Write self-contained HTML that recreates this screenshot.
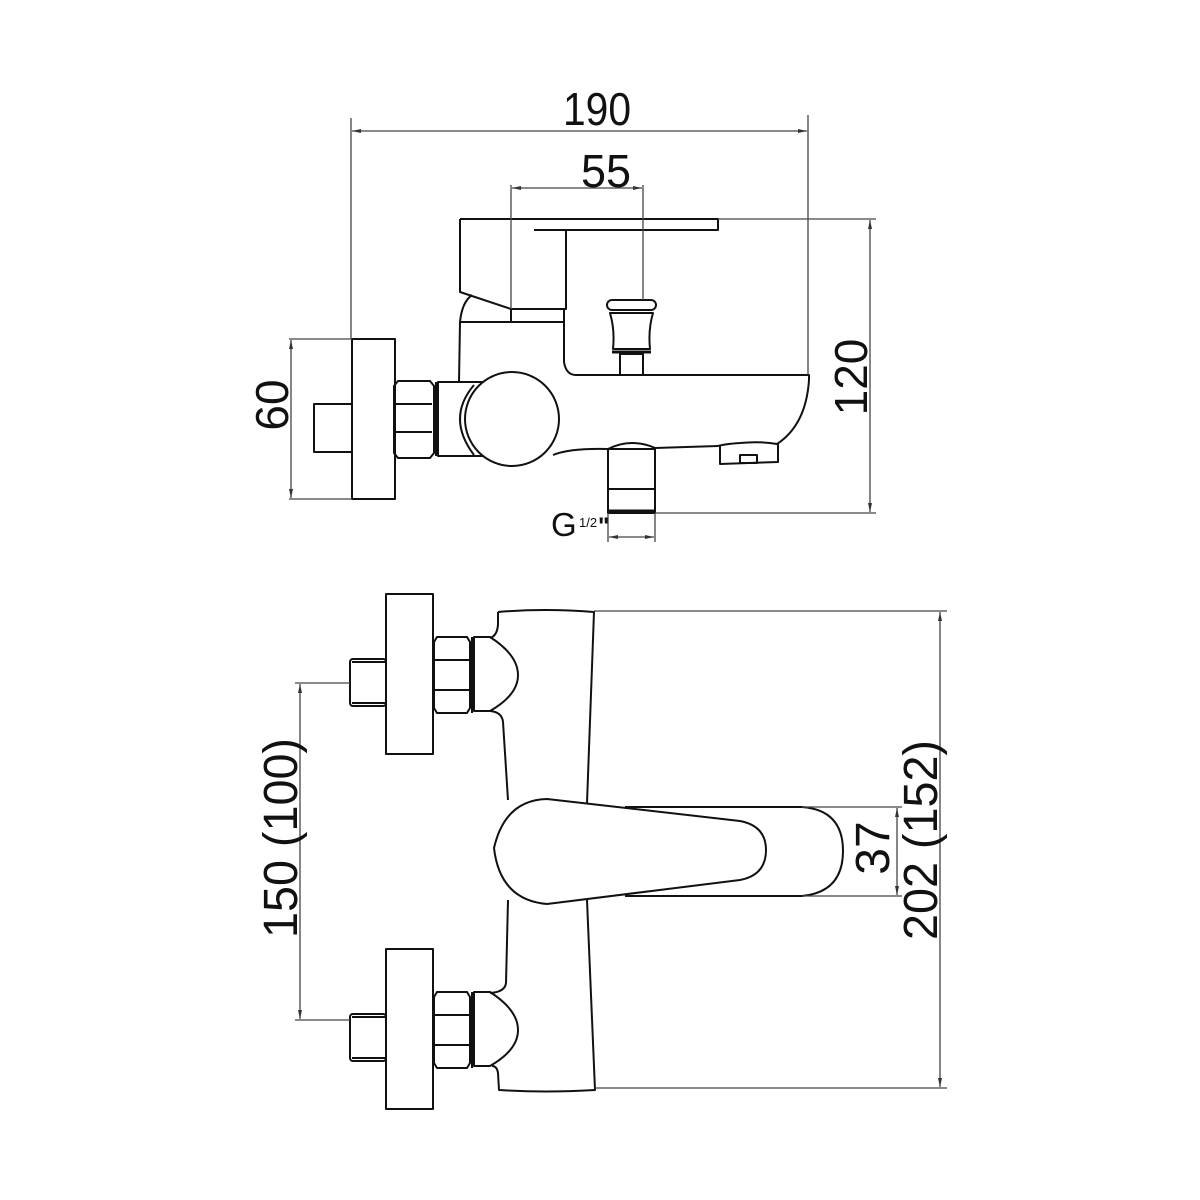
<!DOCTYPE html>
<html><head><meta charset="utf-8"><style>
html,body{margin:0;padding:0;background:#fff;}
svg{display:block;}
text{font-family:"Liberation Sans",Arial,sans-serif;fill:#111;}
</style></head><body>
<svg width="1200" height="1200" viewBox="0 0 1200 1200" xmlns="http://www.w3.org/2000/svg">
<defs>
<marker id="a" markerWidth="10" markerHeight="6" refX="9" refY="3" orient="auto-start-reverse" markerUnits="userSpaceOnUse"><path d="M0,1 L9,3 L0,5 z" fill="#333"/></marker>
</defs>
<g fill="none" stroke="#111" stroke-width="2" stroke-linejoin="round">
<rect x="352" y="339" width="43" height="160"/>
<rect x="314" y="404" width="38" height="48"/>
<path d="M398,381 H430 L434,386 V453 L430,458 H398 L394,453 V386 Z"/>
<line x1="396" y1="404" x2="432" y2="404"/><line x1="396" y1="432" x2="432" y2="432"/>
<line x1="436" y1="382" x2="436" y2="456"/>
<rect x="438" y="382" width="46" height="74"/>
<path d="M460,219 H718 V230 H534"/>
<path d="M460,219 V292 L511,309 H566 V230"/>
<line x1="511" y1="309" x2="511" y2="322"/>
<path d="M459,382 L460,322 Q462,302 472,295"/>
<line x1="460" y1="322" x2="564" y2="322"/>
<path d="M564,309 V362 Q566,375 576,375 H809 V380 Q806,425 777,444 Q760,441 740,443 Q725,444 718,446"/>
<path d="M553,455 Q570,448 608,449 Q620,443 632,443 Q645,443 655,448 L718,446"/>
<path d="M720,446 V464 L778,462 V444"/>
<rect x="740" y="455" width="17" height="8"/>
<path d="M474,385 Q446,418 474,455" />
<circle cx="512" cy="419" r="47" fill="#fff"/>
<rect x="607" y="300" width="49" height="10" rx="5"/>
<path d="M610,313 H653 Q648,330 650,349 H613 Q615,330 610,313 Z"/>
<line x1="612" y1="352" x2="651" y2="352" stroke-width="3"/>
<rect x="620" y="354" width="23" height="21"/>
<rect x="608" y="449" width="47" height="64"/>
<line x1="609" y1="489" x2="654" y2="489"/>
<line x1="609" y1="511" x2="654" y2="511" stroke-width="3"/>

<path d="M498,612 Q545,608 594,612 L587,803"/>
<path d="M587,900 L595,1090 Q545,1093 499,1090 L498,1073 Q497,1066 492,1066"/>
<path d="M498,612 V625 Q497,636 490,638"/>
<path d="M490,711 Q502,712 503,722 L508,800"/>
<path d="M508,900 L506,983 Q505,992 490,993"/>
<path d="M547,799 Q505,800 494,848 Q500,900 547,904 L740,880 Q766,875 766,850 Q766,826 740,821 Z" fill="#fff"/>
<path d="M625,807 H802 Q843,810 843,851 Q843,892 802,896 H625"/>
<g id="conn">
<rect x="386" y="594" width="47" height="160"/>
<rect x="350" y="659" width="36" height="47" rx="3"/>
<line x1="352" y1="662" x2="386" y2="662"/><line x1="352" y1="703" x2="386" y2="703"/>
<path d="M437,637 H467 L470,642 V708 L467,713 H437 L434,708 V642 Z"/>
<line x1="434" y1="660" x2="470" y2="660"/><line x1="434" y1="690" x2="470" y2="690"/>
<line x1="472" y1="637" x2="472" y2="713"/>
<path d="M474,637 H490 Q518,655 518,675 Q518,695 490,711 H474 Z"/>
</g>
<use href="#conn" transform="translate(0,355)"/>
</g>

<g fill="none" stroke="#444" stroke-width="1.3">
<line x1="351" y1="118" x2="351" y2="339"/>
<line x1="808" y1="115" x2="808" y2="375"/>
<line x1="352" y1="131" x2="807" y2="131" marker-start="url(#a)" marker-end="url(#a)"/>
<line x1="511" y1="185" x2="511" y2="309"/>
<line x1="643" y1="185" x2="643" y2="300"/>
<line x1="512" y1="188" x2="642" y2="188" marker-start="url(#a)" marker-end="url(#a)"/>
<line x1="289" y1="339" x2="352" y2="339"/>
<line x1="289" y1="499" x2="352" y2="499"/>
<line x1="291" y1="340" x2="291" y2="498" marker-start="url(#a)" marker-end="url(#a)"/>
<line x1="718" y1="219" x2="876" y2="219"/>
<line x1="655" y1="513" x2="876" y2="513"/>
<line x1="870" y1="220" x2="870" y2="512" marker-start="url(#a)" marker-end="url(#a)"/>
<line x1="608" y1="513" x2="608" y2="542"/>
<line x1="655" y1="513" x2="655" y2="542"/>
<line x1="609" y1="537" x2="654" y2="537" marker-start="url(#a)" marker-end="url(#a)"/>
<line x1="594" y1="611" x2="947" y2="611"/>
<line x1="595" y1="1088" x2="947" y2="1088"/>
<line x1="940" y1="612" x2="940" y2="1087" marker-start="url(#a)" marker-end="url(#a)"/>
<line x1="802" y1="807" x2="902" y2="807"/>
<line x1="802" y1="896" x2="902" y2="896"/>
<line x1="897" y1="808" x2="897" y2="895" marker-start="url(#a)" marker-end="url(#a)"/>
<line x1="295" y1="683" x2="350" y2="683"/>
<line x1="295" y1="1020" x2="350" y2="1020"/>
<line x1="300" y1="684" x2="300" y2="1019" marker-start="url(#a)" marker-end="url(#a)"/>
</g>

<text x="597" y="125" font-size="46" text-anchor="middle" textLength="68" lengthAdjust="spacingAndGlyphs">190</text>
<text x="606" y="187" font-size="46" text-anchor="middle" textLength="50" lengthAdjust="spacingAndGlyphs">55</text>
<text transform="translate(288,405) rotate(-90)" font-size="46" text-anchor="middle">60</text>
<text transform="translate(867,377) rotate(-90)" font-size="46" text-anchor="middle">120</text>
<text x="551" y="536" font-size="33">G</text>
<text x="579" y="527" font-size="13">1/2</text>
<text x="598" y="534" font-size="24" font-weight="bold">"</text>
<text transform="translate(297,838) rotate(-90)" font-size="48" text-anchor="middle" textLength="200" lengthAdjust="spacingAndGlyphs">150 (100)</text>
<text transform="translate(937,840) rotate(-90)" font-size="48" text-anchor="middle" textLength="200" lengthAdjust="spacingAndGlyphs">202 (152)</text>
<text transform="translate(889,848) rotate(-90)" font-size="48" text-anchor="middle">37</text>
</svg>
</body></html>
